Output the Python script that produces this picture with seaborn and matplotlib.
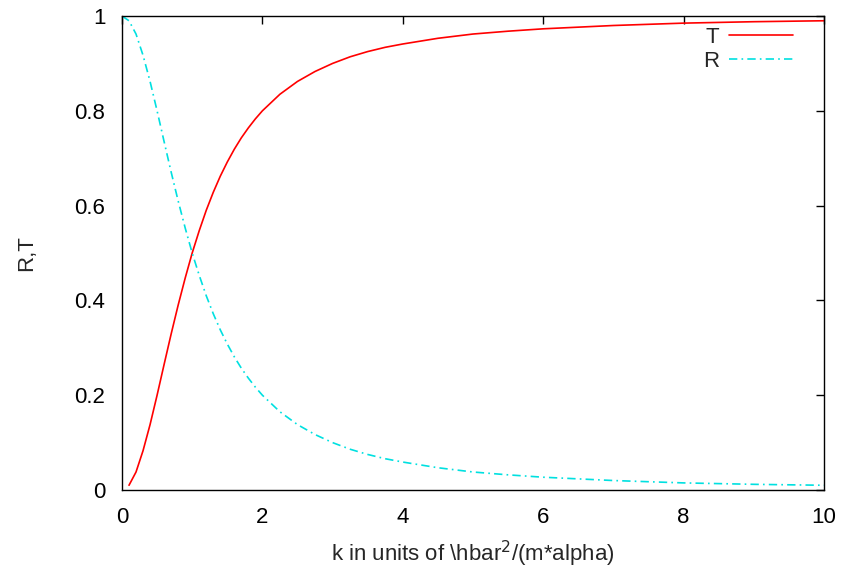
import numpy as np
import pandas as pd
import matplotlib
matplotlib.use("Agg")
import matplotlib.pyplot as plt
import seaborn as sns

# values
k_T = [0.1, 0.2, 0.3, 0.4, 0.5, 0.6, 0.7, 0.8, 0.9, 1.0, 1.1, 1.2, 1.3, 1.4,
       1.5, 1.6, 1.7, 1.8, 1.9, 2.0, 2.25, 2.5, 2.75, 3.0, 3.25, 3.5, 3.75,
       4.0, 4.5, 5.0, 5.5, 6.0, 7.0, 8.0, 9.0, 10.0]
T = [0.01, 0.038, 0.083, 0.138, 0.20, 0.265, 0.329, 0.39, 0.447, 0.50, 0.547,
     0.59, 0.628, 0.662, 0.692, 0.719, 0.743, 0.764, 0.783, 0.80, 0.835,
     0.862, 0.883, 0.90, 0.914, 0.925, 0.934, 0.941, 0.953, 0.962, 0.968,
     0.973, 0.98, 0.985, 0.988, 0.99]
k_R = [0.0, 0.1, 0.2, 0.3, 0.4, 0.5, 0.6, 0.7, 0.8, 0.9, 1.0, 1.1, 1.2, 1.3,
       1.4, 1.5, 1.6, 1.7, 1.8, 1.9, 2.0, 2.25, 2.5, 2.75, 3.0, 3.25, 3.5,
       3.75, 4.0, 4.5, 5.0, 5.5, 6.0, 7.0, 8.0, 9.0, 10.0]
R = [1.0, 0.99, 0.962, 0.917, 0.862, 0.80, 0.735, 0.671, 0.61, 0.553, 0.50,
     0.453, 0.41, 0.372, 0.338, 0.308, 0.281, 0.257, 0.236, 0.217, 0.20,
     0.165, 0.138, 0.117, 0.10, 0.086, 0.075, 0.066, 0.059, 0.047, 0.038,
     0.032, 0.027, 0.02, 0.015, 0.012, 0.01]

xticks = [0, 2, 4, 6, 8, 10]
yticks = [0, 0.2, 0.4, 0.6, 0.8, 1]
ytick_labels = ["0", "0.2", "0.4", "0.6", "0.8", "1"]

sns.set_style("white")
plt.rcParams['font.family'] = ['Liberation Sans', 'DejaVu Sans']
plt.rcParams['font.size'] = 16

fig = plt.figure(figsize=(8.43, 5.68), dpi=100)
ax = fig.add_axes([0.1447, 0.1373, 0.9775 - 0.1447, 0.9718 - 0.1373])

df_T = pd.DataFrame({"k": k_T, "val": T})
df_R = pd.DataFrame({"k": k_R, "val": R})
sns.lineplot(data=df_T, x="k", y="val", ax=ax, color="#ff0000", lw=1.2, label="T")
sns.lineplot(data=df_R, x="k", y="val", ax=ax, color="#00e0e0", lw=1.2,
             label="R")
ax.lines[1].set_dashes([5, 2.5, 1, 2.5])

ax.set_xlim(0, 10)
ax.set_ylim(0, 1)
ax.set_xticks(xticks)
ax.set_xticklabels([str(x) for x in xticks])
ax.set_yticks(yticks)
ax.set_yticklabels(ytick_labels)
ax.tick_params(direction="in", length=6, width=1, top=True, right=True,
               labelsize=16, pad=12, colors="black")
for s in ax.spines.values():
    s.set_visible(True)
    s.set_color("black")
    s.set_linewidth(1)

ax.set_xlabel("k in units of \\hbar$^2$/(m*alpha)", fontsize=16, labelpad=8)
ax.set_ylabel("R,T", fontsize=16, labelpad=27)

leg = ax.legend(loc="upper right", frameon=False, markerfirst=False,
                handlelength=2.85, handletextpad=0.45, labelspacing=0.15,
                bbox_to_anchor=(0.984, 1.02), fontsize=16)

fig.savefig("out.png", dpi=100)
